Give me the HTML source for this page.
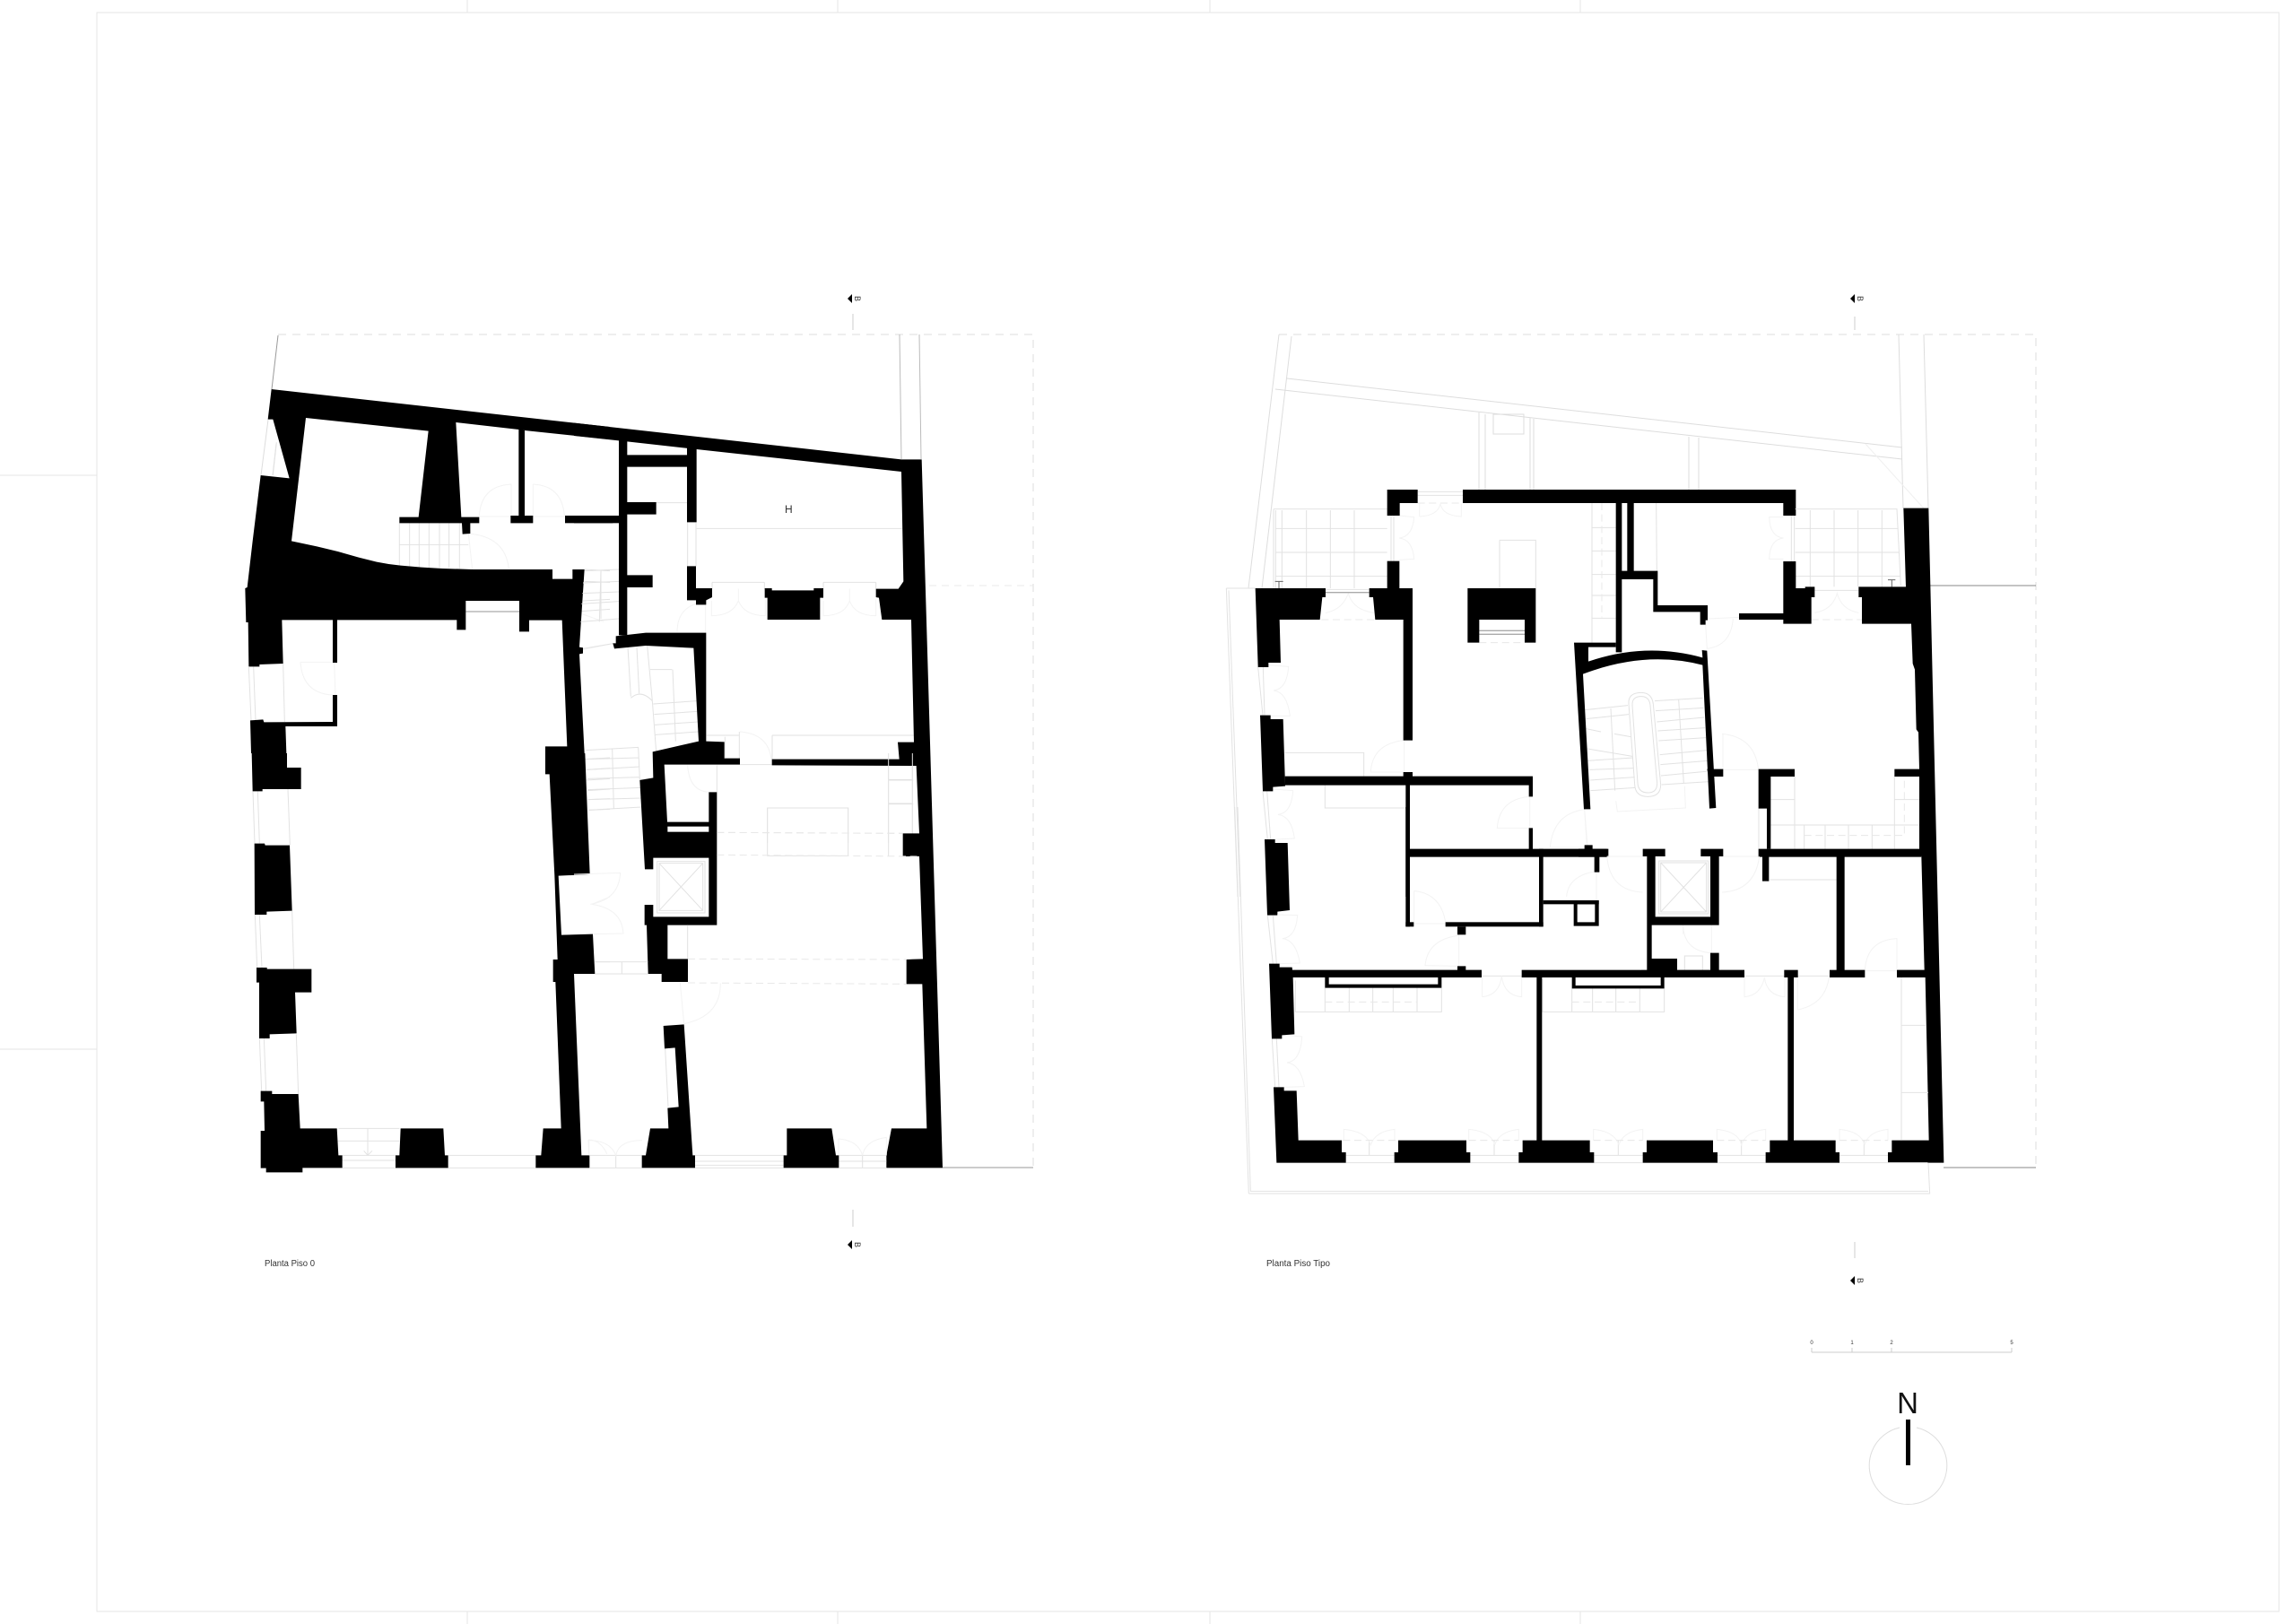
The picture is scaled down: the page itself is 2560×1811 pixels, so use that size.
<!DOCTYPE html>
<html><head><meta charset="utf-8"><title>Plantas</title>
<style>
html,body{margin:0;padding:0;background:#fff}
svg{display:block}
.l{fill:none;stroke:#e2e2e2;stroke-width:3}
.a{fill:none;stroke:#f3f3f3;stroke-width:3}
.d{fill:none;stroke:#e8e8e8;stroke-width:3;stroke-dasharray:24 14}
.f{fill:none;stroke:#e6e6e6;stroke-width:1}
.g{fill:none;stroke:#aaa;stroke-width:4}
.k{fill:#000;stroke:none}
text{font-family:"Liberation Sans",sans-serif;fill:#333}
</style></head><body>
<svg xmlns="http://www.w3.org/2000/svg" width="2560" height="1811" viewBox="0 0 2560 1811">
<rect width="2560" height="1811" fill="#fff"/>
<!-- sheet frame -->
<g class="f">
<rect x="108" y="14" width="2433" height="1783"/>
<path d="M521 0V14M934 0V14M1349 0V14M1762 0V14M521 1797V1811M934 1797V1811M1349 1797V1811M1762 1797V1811M0 530H108M0 1170H108"/>
</g>
<!-- plan 1 site lines -->
<path d="M310 373H1152V1302" fill="none" stroke="#ddd" stroke-width="1" stroke-dasharray="9 7"/>
<path d="M1003 373L1005 512M1025 373L1027 512" fill="none" stroke="#bbb" stroke-width="1"/>
<path d="M310 374L303 434" fill="none" stroke="#999" stroke-width="1"/>
<path d="M299 468L291 530M308 495L304 530" fill="none" stroke="#ddd" stroke-width="1"/>
<path d="M1051 1302H1152" fill="none" stroke="#999" stroke-width="1"/>
<path d="M1036 653H1152" fill="none" stroke="#e8e8e8" stroke-width="1" stroke-dasharray="8 6"/>
<!-- plan 2 site lines -->
<path d="M1426 373H2270V1302" fill="none" stroke="#ddd" stroke-width="1" stroke-dasharray="9 7"/>
<g fill="none" stroke="#ddd" stroke-width="1">
<path d="M1426 373L1392 656M1440 375L1407 656M1435 422L2121 499M1422 434L2121 512"/>
<path d="M1649 460V546M1656 462V546M1706 466V546M1710 467V546M1883 487V546M1894 488V546"/>
<rect x="1665" y="462" width="34" height="22"/>
<path d="M2117 373L2122 567M2145 373L2150 567"/>
</g>
<path d="M2080 495L2145 567" fill="none" stroke="#f0f0f0" stroke-width="1"/>
<path d="M2150 653H2270M2167 1302H2270" fill="none" stroke="#888" stroke-width="1"/>
<!-- section markers -->
<g fill="none" stroke="#ccc" stroke-width="1"><path d="M951 350V368M951 1349V1368M2068 353V368M2068 1385V1403"/></g>
<polygon class="k" points="945,333 950,328 950,338"/>
<polygon class="k" points="945,1388 950,1383 950,1393"/>
<polygon class="k" points="2063,333 2068,328 2068,338"/>
<polygon class="k" points="2063,1428 2068,1423 2068,1433"/>
<text transform="translate(953,330) rotate(90)" font-size="9">B</text>
<text transform="translate(953,1385) rotate(90)" font-size="9">B</text>
<text transform="translate(2071,330) rotate(90)" font-size="9">B</text>
<text transform="translate(2071,1425) rotate(90)" font-size="9">B</text>
<text x="295" y="1412" font-size="10" textLength="56" lengthAdjust="spacingAndGlyphs">Planta Piso 0</text>
<text x="1412" y="1412" font-size="10" textLength="71" lengthAdjust="spacingAndGlyphs">Planta Piso Tipo</text>
<!-- scale + north -->
<path d="M2020 1508H2243M2020 1503V1508M2065 1503V1508M2109 1503V1508M2243 1503V1508" fill="none" stroke="#ccc" stroke-width="1"/>
<g font-size="6" text-anchor="middle"><text x="2020" y="1499">0</text><text x="2065" y="1499">1</text><text x="2109" y="1499">2</text><text x="2243" y="1499">5</text></g>
<text x="2127" y="1576" font-size="33" text-anchor="middle" style="fill:#111">N</text>
<rect class="k" x="2125" y="1583" width="5" height="51"/>
<path d="M2118 1592A43.3 43.3 0 1 0 2137 1592" fill="none" stroke="#ddd" stroke-width="1"/>

<!-- TILE 1 -->
<g transform="translate(260 360) scale(.33333)">
<path class="l" d="M556 670V820M590 670V820M622 670V820M655 670V820M690 670V820M722 670V820M757 670V822M556 742H787"/>
<path class="a" d="M787 705L800 825M787 705Q910 715 922 822M823 648H928M823 645Q830 545 930 540V645M1003 540Q1100 545 1108 645M1003 540V645M1003 648H1108"/>
<path class="l" d="M52 1152L60 1330M68 1150L75 1330M167 1140L172 1335M145 400L133 510"/>
<path class="a" d="M225 1135H333M225 1135Q232 1240 333 1245M338 1137L342 1245"/>
<path class="l" d="M1175 825L1260 830M1175 865L1260 868M1170 930L1260 925M1165 965L1260 958M1230 830V990"/>
<path class="a" d="M1170 975L1240 1000M1170 1093L1260 1075"/>
<path class="g" d="M778 966H957"/>
<polygon class="k" points="128,222 1260,348 1260,390 975,360 955,357 745,333 763,650 823,650 823,670 793,670 793,705 767,707 765,670 556,670 556,650 620,650 653,362 243,318 195,730 280,748 350,765 420,785 480,800 520,807 560,812 630,818 700,822 800,825 1068,825 1068,857 1135,857 1135,825 1175,825 1158,1085 1170,1087 1170,1106 1158,1108 1175,1440 1044,1440 1044,1417 1117,1417 1100,995 990,995 990,1033 957,1033 957,930 778,930 778,1027 748,1027 748,994 348,994 348,1137 333,1137 333,994 163,994 167,1140 88,1143 88,1150 52,1150 50,1002 43,1002 40,888 47,885 65,730 92,510 188,520 133,323 116,323"/>
<polygon class="k" points="333,1245 348,1245 348,1350 175,1350 178,1440 60,1440 57,1330 100,1327 103,1336 333,1335"/>
<polygon class="k" points="955,355 975,360 975,645 1003,645 1003,670 928,670 928,645 955,645"/>
<rect class="k" x="1110" y="645" width="160" height="25"/>
</g>

<!-- TILE 3 -->
<g transform="translate(260 840) scale(.33333)">
<path class="l" d="M66 127L72 302M82 127L88 302M183 120L190 308M73 540L80 717M88 540L96 717M197 527L203 722M88 954L95 1130M103 954L110 1130M211 940L218 1140"/>
<path class="l" d="M352 1255H556M350 1297H556M365 1345H543M365 1362H543M365 1387H1012M720 1345H1012M450 1255V1345M437 1330L450 1345L465 1330M1177 20L1260 15M1180 55L1260 50M1182 90L1260 85M1185 125L1260 120M1188 155L1260 152M1190 190L1260 187M1210 698H1260M1210 738H1260"/>
<path class="a" d="M1200 505L1260 480M1190 1345V1293Q1230 1295 1250 1340"/>
<polygon class="k" points="1044,0 1177,0 1193,405 1088,410 1098,608 1203,605 1210,738 1140,738 1165,1345 1192,1345 1192,1387 1012,1387 1012,1345 1030,1345 1037,1255 1097,1255 1078,765 1070,765 1070,690 1085,690 1075,410 1058,70 1044,70"/>
<polygon class="k" points="62,0 180,0 180,48 227,48 227,120 98,120 98,127 65,127"/>
<polygon class="k" points="71,302 105,302 107,308 189,308 197,527 112,530 112,540 72,540"/>
<polygon class="k" points="78,717 113,717 113,722 262,722 262,800 207,800 212,937 122,940 122,954 87,954 87,767 78,767"/>
<polygon class="k" points="92,1130 130,1130 130,1140 218,1140 224,1255 347,1255 352,1345 365,1345 365,1387 232,1387 232,1402 110,1402 110,1388 92,1388 92,1263 105,1263 103,1165 92,1165"/>
<polygon class="k" points="560,1255 703,1255 708,1345 719,1345 719,1387 543,1387 543,1345 556,1345"/>
</g>

<!-- TILE 2 -->
<g transform="translate(640 460) scale(.33333)">
<path class="l" d="M35 530L150 525M30 570L150 565M28 605L150 600M25 640L150 632M22 700L150 690M90 530L85 700M30 790L135 772M380 367V514M408 367V514M410 388H1098M275 302H378M462 568H637M462 568V590M637 568V590M834 568H1010M834 568V590M1010 568V590"/>
<path class="a" d="M550 590V630M922 590V630M460 630V680Q530 680 550 630Q570 680 640 680V625M834 630V680Q905 680 922 630Q940 680 1010 680V625M345 735Q345 660 408 640M440 625V737"/>
<path class="l" d="M180 785L190 950M210 785L218 940M245 780L262 965M190 955Q225 925 262 965L275 1135M265 975L410 965M268 1010L412 1000M270 1045L414 1035M272 1078L416 1068M330 860L340 1100M255 860H328M40 1130L215 1120M40 1160L217 1155M43 1195L220 1185M45 1225L220 1220M45 1262L222 1255M47 1295L224 1290M48 1330L225 1320M128 1125L133 1325M215 1120L220 1228L265 1225"/>
<path class="l" d="M443 1080H553M663 1080H1137M505 1085V1155M553 1068V1178M663 1080V1160M555 1178H662M478 1180V1270M1052 1182V1440M1132 1182V1410M1052 1230H1135M1052 1310H1135M647 1323H917V1440M647 1323V1440"/>
<path class="a" d="M555 1068Q650 1075 660 1160M380 1180Q385 1265 450 1270"/>
<path class="d" d="M478 1405L1100 1408"/>
<text x="718" y="336" text-anchor="middle" style="font-size:36px">H</text>
<polygon class="k" points="0,35 1095,157 1095,198 410,123 178,97 0,78"/>
<polygon class="k" points="1095,157 1163,157 1233,2527 1045,2527 1045,2485 1062,2395 1180,2395 1165,1912 1112,1912 1112,1830 1167,1828 1155,1485 1100,1485 1100,1408 1155,1408 1145,1182 662,1180 662,1160 1088,1160 1083,1103 1137,1103 1128,693 1030,693 1020,620 1010,618 1010,590 1085,590 1102,565 1095,198"/>
<polygon class="k" points="150,92 178,92 178,142 378,142 378,118 410,118 410,367 378,367 378,182 178,182 178,300 275,300 275,341 178,341 178,544 263,544 263,585 178,585 178,745 150,745"/>
<rect class="k" x="0" y="345" width="160" height="25"/>
<polygon class="k" points="378,514 408,514 408,588 462,588 462,618 442,628 442,643 408,643 408,628 378,628"/>
<polygon class="k" points="638,588 662,588 662,595 802,595 802,588 834,588 834,620 823,620 823,693 647,693 647,620 638,620"/>
<polygon class="k" points="140,748 240,737 442,737 442,1100 503,1102 503,1157 555,1157 555,1178 302,1178 312,1370 451,1370 451,1270 478,1270 478,1715 313,1715 313,1828 381,1828 381,1905 293,1905 293,1878 248,1878 243,1715 236,1715 236,1647 265,1647 265,1687 451,1687 451,1490 265,1490 265,1528 237,1528 220,1230 265,1222 263,1135 417,1100 400,788 240,780 135,790 130,772 140,772"/>
<rect x="313" y="1385" width="138" height="18" fill="#fff"/>
<polygon class="k" points="0,785 30,787 30,805 0,808"/>
</g>

<!-- TILE 4 -->
<g transform="translate(640 840) scale(.33333)">
<path class="l" d="M647 183H917V343H647ZM1052 0V345M1132 0V265M1052 88H1130M1052 168H1132M380 575V688"/>
<path class="d" d="M478 265L1100 268M478 340L1155 345M381 688L1112 690M381 768L1112 772"/>
<path class="a" d="M355 768L368 905M490 770Q490 880 368 905M55 505Q150 490 155 400L0 405M60 505Q160 520 165 603L65 605"/>
<path class="l" d="M278 362H438V534H278ZM285 368H431V526H285ZM285 368L431 526M431 368L285 526M70 698H247M70 738H247M160 698V738"/>
<path class="l" d="M405 1345H701M405 1365H701M405 1378H701M405 1387H701M886 1345H1045M886 1365H1045M886 1387H1045M965 1345V1387M52 1345H227M52 1387H227M140 1345V1387M305 988L315 1183"/>
<path class="a" d="M885 1345V1290Q950 1295 965 1345Q975 1295 1045 1285V1345M50 1345L48 1295Q120 1295 140 1345Q150 1295 228 1295"/>
<polygon class="k" points="299,912 368,907 397,1345 405,1345 405,1387 227,1387 227,1345 240,1345 255,1255 316,1255 313,1187 350,1183 338,985 303,988"/>
<polygon class="k" points="712,1255 862,1255 876,1345 886,1345 886,1387 701,1387 701,1345 712,1345"/>
</g>

<!-- TILE 5 (plan 2) -->
<g transform="translate(1360 520) scale(.33333)">
<path class="l" d="M180 143H560M180 143V408M187 147V408M208 147V408M290 147V408M370 147V408M450 147V408M187 208H560M187 288H560M187 368H560"/>
<path class="l" d="M22 408H119M22 408L60 1440M30 415L68 1440"/>
<path d="M185 385H212M198 385V408" fill="none" stroke="#666" stroke-width="3"/>
<path class="l" d="M662 85H813M662 97H813M573 165V317M582 165V317M936 247H1057V408M936 247V408M354 412H500"/>
<path class="a" d="M668 168V125M668 168Q730 165 738 125Q745 165 808 168V125M600 165L650 170Q645 235 600 240Q645 245 650 310L600 313M354 490Q410 480 430 425Q445 480 515 490"/>
<path class="g" d="M354 422H500M868 550H1020M868 562H1020"/>
<path class="d" d="M662 123H813M340 513H520M868 590H1020"/>
<path class="l" d="M128 672L144 833M145 672L150 833M144 1087L160 1248M158 1087L170 1248M218 958H482V1037M352 1067V1143H622"/>
<path class="a" d="M163 665L230 670Q225 745 180 750Q225 755 235 835L170 835M178 1080L245 1085Q240 1160 195 1165Q240 1170 250 1245L185 1248M614 917Q510 930 505 1023H614M617 917V1023M1034 1105Q935 1115 928 1210H1034M1037 1105V1210M1225 1147Q1115 1160 1105 1275M1220 1147L1228 1268M1105 1275H1220M1258 1355Q1165 1370 1160 1440"/>
<polygon class="k" points="560,78 662,78 662,123 602,123 602,165 560,165"/>
<polygon class="k" points="813,78 1927,78 1927,165 1885,165 1885,123 813,123"/>
<polygon class="k" points="829,408 1057,408 1057,590 1020,590 1020,513 868,513 868,590 829,590"/>
<polygon class="k" points="119,408 354,408 354,438 343,438 335,513 200,513 204,657 163,657 163,672 128,672"/>
<polygon class="k" points="500,408 645,408 645,917 614,917 614,513 520,513 513,438 500,438"/>
<rect class="k" x="560" y="317" width="41" height="92"/>
<polygon class="k" points="135,833 170,833 170,846 212,846 219,1070 178,1073 178,1087 144,1087"/>
<polygon class="k" points="150,1248 185,1248 185,1260 227,1260 234,1485 193,1490 193,1502 159,1502"/>
<polygon class="k" points="218,1037 614,1037 614,1023 645,1023 645,1037 1047,1037 1047,1105 1034,1105 1034,1067 636,1067 636,1280 1034,1280 1034,1210 1047,1210 1047,1280 1300,1280 1300,1307 636,1307 636,1440 622,1440 622,1067 218,1067"/>
</g>

<!-- TILE 6 -->
<g transform="translate(1760 520) scale(.33333)">
<path class="l" d="M45 123V590M45 205H125M45 283H125M45 362H125M45 432H125M45 508H125M260 123L262 350"/>
<path class="d" d="M78 123V505"/>
<path class="l" d="M725 143H1065L1078 400M775 147V403M855 147V403M935 147V403M1015 147V403M725 208H1070M725 288H1072M725 368H1075M712 165V318M722 165V318M790 415H937"/>
<path class="a" d="M685 170H638Q640 235 685 240Q640 245 638 310H685M790 490Q850 480 865 425Q880 480 937 490"/>
<path class="d" d="M779 513H948"/>
<path d="M1035 380H1060M1048 380V403" fill="none" stroke="#666" stroke-width="3"/>
<path class="l" d="M168 795Q165 757 210 757Q245 757 250 795L275 1065Q275 1105 232 1105Q190 1105 188 1065ZM180 800Q178 770 210 770Q237 770 240 800L263 1060Q263 1092 232 1092Q200 1092 198 1060Z"/>
<path class="l" d="M255 785L415 775M258 818L418 808M262 855L420 840M265 885L423 875M268 918L426 908M272 965L430 950M274 998L432 985M276 1035L436 1020M278 1065L438 1055M335 780L352 1060M22 815L165 800M25 845L168 830M25 878L75 888M120 895L175 905M30 945L180 970M30 985L183 975M35 1015L185 1010M38 1050L188 1040M40 1085L190 1075M108 810L122 1085"/>
<path class="a" d="M125 1120L130 1155L358 1143L355 1070"/>
<path class="l" d="M723 1038V1280M1057 1038V1280M723 1200H1140M755 1200V1280M825 1200V1280M903 1200V1280M982 1200V1280M1057 1115H1140M643 1115H723M643 1200H723M603 1145V1280"/>
<path class="a" d="M480 895Q590 905 602 1015M483 895V1015M484 1015H602M20 1147L30 1268M425 530L430 610M430 610Q510 600 517 510M432 510L537 505"/>
<path class="d" d="M755 1235H1090V1038"/>
<path d="M537 501H597" fill="none" stroke="#ccc" stroke-width="4"/>
<polygon class="k" points="125,123 145,123 145,350 163,350 163,123 185,123 185,350 265,350 265,465 432,465 432,515 425,515 425,530 407,530 407,487 250,487 250,378 145,378 145,622 125,622"/>
<path class="k" d="M-15 590H125V605H33V653Q225 587 415 640L413 615L430 617L460 1143L438 1145L415 665Q225 615 15 695L40 1147L18 1147Z"/>
<polygon class="k" points="430,1013 484,1013 484,1038 436,1038"/>
<polygon class="k" points="685,318 727,318 727,408 758,408 758,403 790,403 790,438 779,438 779,527 685,527 685,513 537,513 537,492 685,492"/>
<polygon class="k" points="602,1013 723,1013 723,1038 643,1038 643,1280 630,1280 630,1145 602,1145"/>
<polygon class="k" points="602,1280 1147,1280 1147,1307 637,1307 637,1388 615,1388 615,1307 602,1307"/>
<polygon class="k" points="1095,403 937,403 937,438 948,438 948,527 1113,527 1118,660 1125,680 1130,880 1137,890 1140,1013 1057,1013 1057,1038 1140,1038 1140,1280 1147,1305 1157,1685 1065,1685 1065,1710 1160,1710 1172,2255 1048,2255 1048,2295 1035,2295 1035,2330 1222,2330 1171,140 1087,140"/>
</g>

<!-- TILE 7 -->
<g transform="translate(1360 900) scale(.33333)">
<path class="l" d="M97 1293H2375L2370 1190M50 0L97 1293M60 0L103 1285H2370M190 1190H2368M160 362L178 524M178 362L190 524M175 775L185 937M190 775L198 937M876 565H1010"/>
<path class="a" d="M650 280Q740 290 755 385M650 280V385M650 390H755M800 427V532M795 430Q695 445 687 530L795 532M193 360L260 362Q255 435 210 440Q255 445 268 522L200 524M208 762L275 768Q270 850 225 855Q270 860 283 935L215 937M878 635V570M878 635Q935 630 943 565Q950 630 1010 635V570"/>
<path class="l" d="M253 580V685H742V605M352 605V685M433 605V685M512 605V685M580 605V685M660 605V685M1080 575V685H1487V607M1178 607V685M1247 607V685M1325 607V685M1405 607V685"/>
<path class="d" d="M352 652H660M1178 652H1405"/>
<path class="l" d="M422 1165H584M838 1165H1000M500 1115V1165M918 1115V1165M1333 1115V1165M1745 1115V1165M2155 1115V1165M1252 1165H1415M1665 1165H1826M2073 1165H2235"/>
<path class="a" d="M415 1115V1078Q490 1085 505 1130Q520 1085 585 1078V1115M833 1115V1078Q908 1085 920 1130Q935 1085 1000 1078V1115M1250 1115V1078Q1320 1085 1335 1130Q1350 1085 1415 1078V1115M1663 1115V1078Q1735 1085 1745 1130Q1760 1085 1826 1078V1115M2073 1115V1078Q2145 1085 2157 1130Q2170 1085 2235 1078V1115"/>
<path class="d" d="M412 1115H590M833 1115H1000M1250 1115H1415M1663 1115H1826M2073 1115H2235"/>
<polygon class="k" points="165,524 200,524 200,536 242,536 243,545 795,545 795,532 823,532 823,545 876,545 876,570 245,570 250,760 208,763 208,775 174,775"/>
<polygon class="k" points="180,937 215,937 215,949 257,949 263,1115 408,1115 408,1155 422,1155 422,1190 190,1190"/>
<polygon class="k" points="597,1115 825,1115 825,1155 838,1155 838,1190 584,1190 584,1155 597,1155"/>
<polygon class="k" points="1013,1115 1060,1115 1060,570 1078,570 1078,1115 1238,1115 1238,1155 1252,1155 1252,1190 1000,1190 1000,1155 1013,1155"/>
<rect class="k" x="622" y="0" width="14" height="400"/>
<rect class="k" x="622" y="385" width="27" height="15"/>
<rect class="k" x="755" y="385" width="327" height="15"/>
<rect class="k" x="1068" y="140" width="14" height="260"/>
<rect class="k" x="1082" y="312" width="186" height="13"/>
<path class="k" fill-rule="evenodd" d="M1184 312H1268V398H1184ZM1196 325V385H1255V325Z"/>
<rect class="k" x="795" y="400" width="28" height="27"/>
<rect class="k" x="1010" y="545" width="400" height="25"/>
<polygon class="k" points="352,570 365,570 365,593 730,593 730,570 742,570 742,605 352,605"/>
<polygon class="k" points="1178,570 1190,570 1190,597 1475,597 1475,570 1487,570 1487,607 1178,607"/>
</g>

<!-- TILE 8 -->
<g transform="translate(1760 900) scale(.33333)">
<path class="l" d="M269 180H434V357H269ZM275 186H428V351H275ZM275 186L428 351M428 186L275 351M355 545V498H415V545M1080 570V1115M1080 730H1160M1080 955H1170M640 243H863M555 565H688M734 565H840"/>
<path class="a" d="M350 395V425M350 400Q355 480 441 488M445 395V488M60 220V312M95 165Q105 280 215 285M480 285Q590 280 605 165M95 165H229M484 165H602M958 545Q965 445 1065 440V545M958 548H1065M555 570V635Q610 630 622 570M690 635Q630 630 622 570M690 570V635M733 678Q825 660 838 570M733 570V678"/>
<polygon class="k" points="0,140 20,140 20,127 47,127 47,140 95,140 95,167 70,167 70,218 53,218 53,167 0,167"/>
<polygon class="k" points="215,140 290,140 290,165 257,165 257,367 441,367 441,165 409,165 409,140 484,140 484,165 470,165 470,395 245,395 245,507 330,507 330,545 441,545 441,488 470,488 470,545 555,545 555,570 210,570 210,545 229,545 229,165 215,165"/>
<rect class="k" x="688" y="545" width="46" height="25"/>
<polygon class="k" points="228,1115 450,1115 450,1155 465,1155 465,1190 215,1190 215,1155 228,1155"/>
<polygon class="k" points="640,1115 700,1115 700,570 720,570 720,1115 860,1115 860,1155 873,1155 873,1190 626,1190 626,1155 640,1155"/>
<rect class="k" x="863" y="165" width="27" height="385"/>
<rect class="k" x="840" y="545" width="118" height="25"/>
</g>
</svg>
</body></html>
